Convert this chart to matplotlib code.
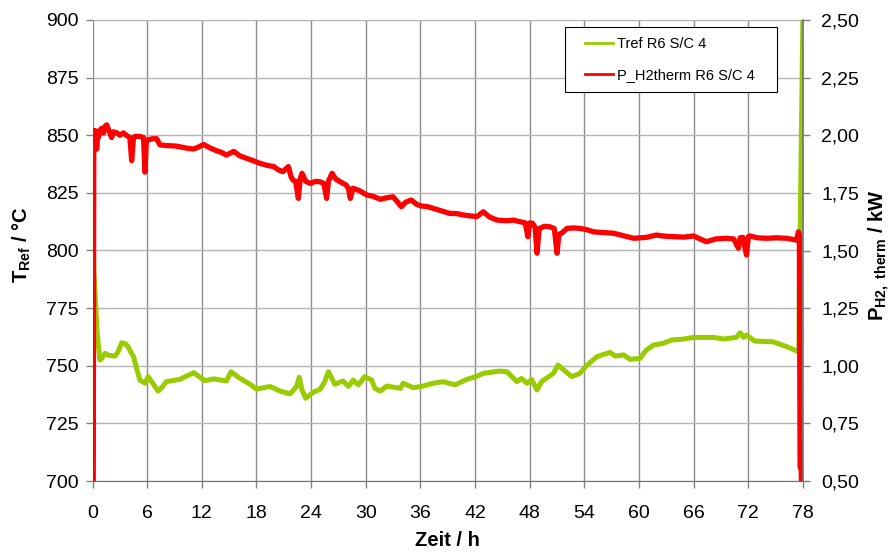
import matplotlib
matplotlib.use("Agg")
import matplotlib.pyplot as plt
from matplotlib.patches import Rectangle
from matplotlib.ticker import FuncFormatter, MultipleLocator

plt.rcParams['font.family'] = ['Liberation Sans', 'DejaVu Sans']
plt.rcParams['mathtext.fontset'] = 'custom'
plt.rcParams['mathtext.rm'] = 'Liberation Sans'
plt.rcParams['mathtext.bf'] = 'Liberation Sans:bold'

# Reformer temperature (left axis), time in h
t_tref = [0.0, 0.08, 0.15, 0.3, 0.5, 0.8, 1.0, 1.37, 1.8, 2.47, 2.8, 3.2, 3.6, 3.9,
          4.2, 4.5, 4.9, 5.2, 5.8, 6.1, 6.5, 7.2, 7.6, 8.1, 9.6, 11.1, 12.35, 13.3,
          14.7, 15.2, 16.2, 17.3, 18.0, 19.5, 20.6, 21.7, 22.4, 22.7, 23.0, 23.4,
          24.2, 25.0, 25.5, 25.9, 26.6, 27.5, 28.1, 28.6, 29.2, 29.9, 30.65, 31.0,
          31.6, 32.3, 33.8, 34.1, 35.2, 36.1, 37.4, 38.5, 39.8, 41.1, 42.1, 42.9,
          44.7, 45.5, 46.6, 47.1, 47.7, 48.2, 48.8, 49.3, 50.6, 51.1, 52.6, 53.5,
          54.3, 55.4, 56.8, 57.4, 58.3, 59.0, 60.1, 60.8, 61.6, 62.7, 63.6, 64.7,
          66.0, 68.2, 69.3, 70.7, 71.1, 71.5, 71.8, 72.7, 74.7, 76.2, 77.5, 77.55,
          77.62, 77.7, 78.0]
tref = [700, 800, 791, 780, 765, 752.5, 753, 755.4, 754.5, 754.2, 756, 760, 759.5,
        758.3, 756, 754, 748, 743.8, 742.4, 745.3, 743.1, 739, 740.5, 743.1, 744.1,
        747, 743.5, 744.3, 743.4, 747.4, 744.5, 742, 739.9, 741, 739, 737.8, 741,
        745, 739.5, 735.9, 738.4, 739.8, 743.1, 747.4, 742, 743.4, 741, 743.8,
        741.7, 745.3, 743.8, 740.2, 739, 741.2, 740.2, 742.4, 740.5, 741, 742.4,
        743.1, 741.7, 744.1, 745.3, 746.7, 747.7, 747.4, 743.1, 744.5, 742.4,
        744.1, 739.5, 743.1, 746.7, 750.3, 745.3, 746.7, 750.3, 754, 755.8, 754.2,
        754.7, 752.8, 753.2, 756.8, 759, 759.8, 761.2, 761.5, 762.3, 762.3, 761.6,
        762.3, 764.3, 762.3, 763.3, 760.7, 760.4, 758.3, 756.1, 756, 800, 812, 905]

# Thermal hydrogen power (right axis), time in h
t_ph2 = [0.08, 0.14, 0.2, 0.3, 0.46, 0.55, 0.64, 0.8, 1.0, 1.2, 1.4, 1.56, 1.8, 2.1,
         2.3, 2.7, 3.0, 3.4, 3.7, 4.1, 4.3, 4.5, 4.67, 5.2, 5.6, 5.76, 5.9, 6.1, 6.6,
         7.05, 7.4, 8.2, 9.2, 10.2, 11.1, 11.7, 12.2, 12.9, 13.6, 14.2, 14.7, 15.5,
         16.2, 16.9, 17.6, 18.4, 19.1, 19.9, 20.4, 20.9, 21.5, 21.8, 22.0, 22.3,
         22.6, 22.8, 23.0, 23.4, 23.9, 24.5, 25.0, 25.4, 25.7, 25.9, 26.3, 26.7,
         27.2, 27.8, 28.1, 28.3, 28.6, 29.3, 30.1, 30.8, 31.6, 32.2, 33.0, 33.5,
         33.9, 34.4, 35.0, 35.6, 36.1, 36.8, 37.4, 38.3, 39.2, 40.0, 40.7, 41.5,
         42.2, 42.9, 43.6, 44.4, 45.5, 46.2, 46.9, 47.5, 47.8, 48.0, 48.3, 48.6,
         48.8, 49.0, 49.1, 49.6, 50.2, 50.7, 51.0, 51.2, 51.5, 52.1, 52.8, 53.5,
         54.3, 55.0, 56.0, 57.2, 58.2, 59.4, 60.1, 60.8, 61.9, 62.8, 63.8, 64.9,
         66.0, 66.7, 67.4, 68.4, 69.6, 70.4, 70.9, 71.1, 71.4, 71.8, 72.0, 72.2,
         73.0, 74.0, 75.1, 76.2, 77.3, 77.5, 77.6, 77.68, 77.8, 77.85]
ph2 = [0.45, 2.02, 1.98, 2.02, 1.94, 2.0, 1.99, 2.02, 2.03, 2.01, 2.04, 2.045, 2.02,
       1.99, 2.015, 2.01, 2.0, 2.01, 2.0, 1.99, 1.89, 1.99, 1.995, 1.995, 1.99,
       1.84, 1.97, 1.98, 1.985, 1.985, 1.958, 1.955, 1.953, 1.945, 1.94, 1.95,
       1.96, 1.945, 1.933, 1.925, 1.914, 1.93, 1.91, 1.9, 1.89, 1.878, 1.87, 1.864,
       1.85, 1.842, 1.864, 1.82, 1.806, 1.8, 1.726, 1.81, 1.835, 1.8, 1.791, 1.8,
       1.798, 1.79, 1.726, 1.8, 1.835, 1.81, 1.798, 1.785, 1.77, 1.726, 1.77, 1.76,
       1.741, 1.735, 1.722, 1.728, 1.733, 1.71, 1.69, 1.71, 1.719, 1.7, 1.693, 1.69,
       1.683, 1.672, 1.661, 1.66, 1.654, 1.65, 1.647, 1.668, 1.645, 1.632, 1.629,
       1.632, 1.625, 1.62, 1.56, 1.62, 1.618, 1.6, 1.488, 1.58, 1.596, 1.605, 1.603,
       1.595, 1.488, 1.57, 1.575, 1.596, 1.598, 1.596, 1.59, 1.581, 1.578, 1.575,
       1.565, 1.553, 1.555, 1.557, 1.567, 1.562, 1.56, 1.558, 1.563, 1.55, 1.538,
       1.55, 1.553, 1.55, 1.51, 1.555, 1.557, 1.48, 1.56, 1.563, 1.555, 1.553,
       1.555, 1.553, 1.545, 1.581, 1.57, 0.56, 0.555, 0.45]

x_ticks = list(range(0, 79, 6))
label_tref = "Tref R6 S/C 4"
label_ph2 = "P_H2therm R6 S/C 4"

GREEN = "#99CC00"
RED = "#FF0000"
GRID_V = "#8c8c8c"
GRID_H = "#b4b4b4"

fig = plt.figure(figsize=(8.91, 5.54), dpi=100)
ax = fig.add_axes([92.5 / 891, 1 - 481 / 554, (803 - 92.5) / 891, (481 - 20) / 554])
ax2 = ax.twinx()

line_t, = ax.plot(t_tref, tref, color=GREEN, lw=3.6, solid_joinstyle='round')
line_p, = ax2.plot(t_ph2, ph2, color=RED, lw=3.8, solid_joinstyle='round')

ax.set_xlim(0, 78)
ax.set_ylim(700, 900)
ax2.set_ylim(0.5, 2.5)
ax.set_xticks(x_ticks)
ax.yaxis.set_major_locator(MultipleLocator(25))
ax2.yaxis.set_major_locator(MultipleLocator(0.25))
ax2.yaxis.set_major_formatter(FuncFormatter(lambda v, p: f"{v:.2f}".replace('.', ',')))

# grid: vertical darker, horizontal lighter
for xv in x_ticks:
    ax.axvline(xv, color=GRID_V, lw=1.0, zorder=0.5)
for yv in range(700, 901, 25):
    ax.axhline(yv, color=GRID_H, lw=1.0, zorder=0.5)

for a in (ax, ax2):
    for s in a.spines.values():
        s.set_visible(False)
ax.spines['bottom'].set_visible(True)
ax.spines['bottom'].set_color('#707070')
ax2.spines['right'].set_visible(True)
ax2.spines['right'].set_color('#707070')
ax2.spines['right'].set_linewidth(1.2)

ax.tick_params(axis='y', direction='out', length=5, width=1, color='#808080',
               labelsize=14, pad=5)
ax.tick_params(axis='x', direction='out', length=5, width=1, color='#808080',
               labelsize=14, pad=12)
ax2.tick_params(axis='y', direction='out', length=5, width=1, color='#808080',
                labelsize=14, pad=8)

# axis titles
fig.text(447 / 891, 1 - 541 / 554, "Zeit / h", fontsize=14.5, fontweight='bold',
         ha='center', va='center')
fig.text(22 / 891, 1 - 245 / 554, r"T$_{\mathbf{Ref}}$ / °C", fontsize=14.5,
         fontweight='bold', rotation=90, ha='center', va='center')
fig.text(879 / 891, 1 - 255 / 554, r"P$_{\mathbf{H2,\ therm}}$ / kW", fontsize=14.5,
         fontweight='bold', rotation=90, ha='center', va='center')

# legend box
fig.patches.append(Rectangle((565 / 891, 1 - 92 / 554), (777 - 565) / 891, (92 - 27) / 554,
                             transform=fig.transFigure, facecolor='white',
                             edgecolor='black', lw=0.8, zorder=5))
leg = fig.legend([line_t, line_p], [label_tref, label_ph2], loc='upper left',
                 bbox_to_anchor=(581 / 891, 1 - 33 / 554), frameon=False,
                 fontsize=10.5, handlelength=1.9, handletextpad=0.25,
                 labelspacing=1.15, borderaxespad=0, borderpad=0.3)
for h in leg.get_lines():
    h.set_linewidth(2)
leg.set_zorder(6)

fig.savefig("out.png", dpi=100)
